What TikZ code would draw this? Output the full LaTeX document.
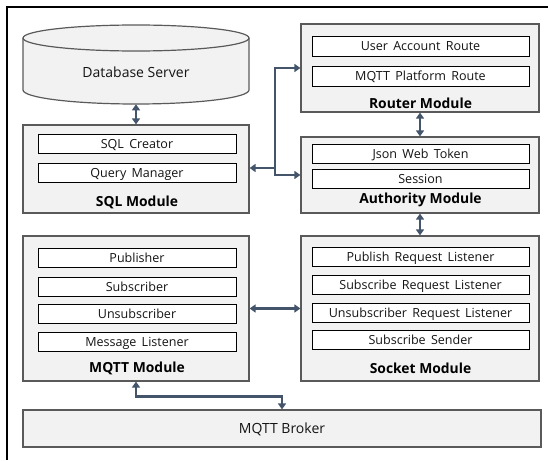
\documentclass[tikz,border=0pt]{standalone}
\usepackage{fontspec}
\setmainfont{Open Sans}
\usetikzlibrary{arrows.meta,positioning,fit,shadows}
\definecolor{linkblue}{RGB}{68,84,106}
\definecolor{modfill}{RGB}{242,242,242}
\definecolor{modline}{RGB}{90,90,90}
\definecolor{txtgray}{RGB}{20,20,20}
\newcommand{\itemfont}{\fontsize{9.4}{11}\selectfont\spaceskip=0.42em plus 0.1em\relax}

\tikzset{
  module/.style={draw=modline, fill=modfill, line width=0.9pt, inner sep=0pt,
    drop shadow={shadow xshift=0.7pt, shadow yshift=-0.7pt, fill=black, opacity=0.35}},
  item/.style={draw=black, fill=white, line width=0.7pt, inner sep=0pt,
    minimum height=14.6pt, text height=1.55ex, text depth=0.3ex, text=txtgray,
    font=\itemfont},
  itemL/.style={item, minimum width=148.5pt},
  itemR/.style={item, minimum width=162.75pt},
  modlabel/.style={font=\fontsize{10.4}{12}\selectfont\bfseries, inner sep=0pt},
  biarrow/.style={draw=linkblue, line width=2pt,
    {Triangle[length=4.5pt,width=6pt]}-{Triangle[length=4.5pt,width=6pt]}},
  onearrow/.style={draw=linkblue, line width=2pt, -{Triangle[length=4.5pt,width=6pt]}},
}

\begin{document}
\begin{tikzpicture}[x=0.75pt, y=0.75pt]
  \useasboundingbox (0,0) rectangle (548,-460);
  % --- outer frame (top and left only) ---
  \draw[line width=1.2pt] (7,-460) -- (7,-7) -- (548,-7);

  % --- database server (cylinder) ---
  \draw[modline, fill=modfill, line width=0.9pt] (23,-38) -- (23,-90)
    arc[start angle=180, end angle=360, x radius=113, y radius=14] -- (249,-38)
    arc[start angle=0, end angle=180, x radius=113, y radius=13] -- cycle;
  \draw[modline, line width=0.9pt] (23,-38)
    arc[start angle=180, end angle=360, x radius=113, y radius=13];
  \node[fit={(23,-25)(249,-104)}, inner sep=0pt] (db) {};
  \node[font=\fontsize{10.5}{12}\selectfont, text=txtgray] (dbtxt) at (136,-72) {Database Server};

  % --- SQL module ---
  \node[module, fit={(23,-125)(249,-213)}] (sql) {};
  \node[itemL] (sqlcreator) at (137,-144) {SQL Creator};
  \node[itemL] (querymgr)   at (137,-173) {Query Manager};
  \node[modlabel] (sqllbl)  at (137,-202) {SQL Module};

  % --- router module ---
  \node[module, fit={(301,-24)(539,-112)}] (router) {};
  \node[itemR] (useracc)  at (420.5,-46.5) {User Account Route};
  \node[itemR] (mqttplat) at (420.5,-76.5) {MQTT Platform Route};
  \node[modlabel] (routerlbl) at (420.5,-103) {Router Module};

  % --- authority module ---
  \node[module, fit={(301,-137)(539,-213)}] (auth) {};
  \node[itemR] (jwt)     at (420.5,-154) {Json Web Token};
  \node[itemR] (session) at (420.5,-179) {Session};
  \node[modlabel] (authlbl) at (420.5,-200) {Authority Module};

  % --- MQTT module ---
  \node[module, fit={(23,-236)(249,-381)}] (mqtt) {};
  \node[itemL] (publisher)  at (137,-258) {Publisher};
  \node[itemL] (subscriber) at (137,-287) {Subscriber};
  \node[itemL] (unsub)      at (137,-314) {Unsubscriber};
  \node[itemL] (msglisten)  at (137,-342) {Message Listener};
  \node[modlabel] (mqttlbl) at (137,-368) {MQTT Module};

  % --- socket module ---
  \node[module, fit={(301,-236)(539,-381)}] (socket) {};
  \node[itemR] (pubreq)   at (420.5,-257) {Publish Request Listener};
  \node[itemR] (subreq)   at (420.5,-285) {Subscribe Request Listener};
  \node[itemR] (unsubreq) at (420.5,-313) {Unsubscriber Request Listener};
  \node[itemR] (subsend)  at (420.5,-340) {Subscribe Sender};
  \node[modlabel] (socketlbl) at (420.5,-368) {Socket Module};

  % --- MQTT broker ---
  \node[module, fit={(23,-410)(541,-447)}] (broker) {};
  \node[font=\fontsize{10.5}{12}\selectfont, text=txtgray] (brokertxt) at (282,-429) {MQTT Broker};

  % --- connectors ---
  \draw[biarrow] (db.south) -- (sql.north);
  \coordinate (hub) at (275,-168);
  \draw[onearrow] (hub) -- (sql.east |- hub);
  \draw[onearrow] (hub) |- (router.west);
  \draw[onearrow] (hub) |- (auth.west);
  \draw[biarrow] (router.south) -- (auth.north);
  \draw[biarrow] (auth.south) -- (socket.north);
  \draw[biarrow] (mqtt.east) -- (socket.west);
  \draw[biarrow] (mqtt.south) -- ++(0,-15) -| (broker.north);
\end{tikzpicture}
\end{document}
